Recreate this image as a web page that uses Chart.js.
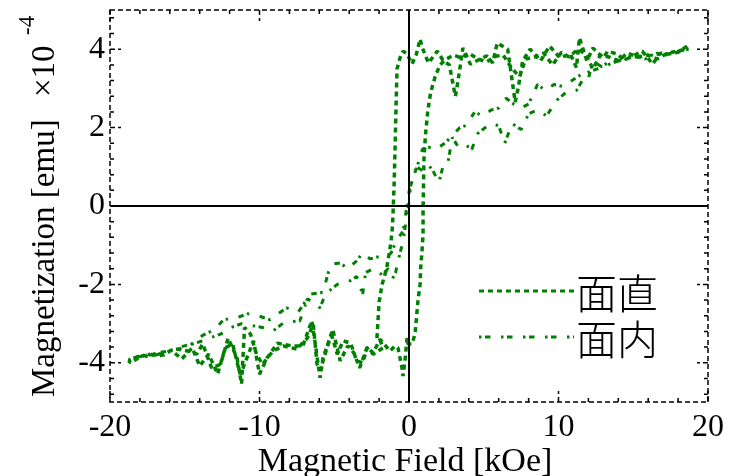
<!DOCTYPE html>
<html>
<head>
<meta charset="utf-8">
<script src="https://cdn.jsdelivr.net/npm/chart.js@4.4.1/dist/chart.umd.min.js"></script>
<style>
  body { margin: 0; background: #fff; }
  #wrap { width: 741px; height: 476px; }
</style>
</head>
<body>
<div id="wrap"><canvas id="chart" width="741" height="476"></canvas></div>
<script>
// -------- DATA (field in kOe, magnetization in 1e-4 emu) --------
const xTicks = [-20, -10, 0, 10, 20];
const yTicks = [-4, -2, 0, 2, 4];
const seriesNames = ['面直', '面内'];

// 面直 : field going down from +max, then back up
const perpDescX = [18.6, 18.0, 17.4, 16.8, 16.3, 15.6, 15.0, 14.4, 13.9, 13.3, 13.0, 12.3, 11.9, 11.4, 11.2, 10.8, 10.1, 9.4, 8.8, 8.1,
  7.6, 7.3, 7.1, 6.9, 6.6, 5.9, 5.6, 5.2, 4.5, 4.1, 3.6, 3.4, 3.2, 3.1, 2.9, 2.7, 2.3, 1.9, 1.3, 0.9,
  0.74, 0.5, 0.2, -0.13, -0.4, -0.6, -0.8, -0.85, -0.9, -0.95, -1.0, -1.05, -1.1, -1.2, -1.3, -1.5, -1.8, -2.0, -2.1, -2.15,
  -1.94, -1.74, -2.4, -2.8, -3.1, -3.5, -3.9, -4.4, -4.8, -5.15, -5.4, -5.95, -6.15, -6.4, -6.8, -7.5, -8.4, -9.1, -9.8, -10.2,
  -10.6, -11.0, -11.2, -11.5, -12.1, -12.6, -13.2, -13.8, -14.2, -14.8, -15.5, -16.0, -16.7, -17.3, -17.8, -18.2, -18.7];
const perpDescY = [4.08, 3.92, 3.88, 3.9, 3.62, 3.95, 3.83, 3.72, 3.88, 3.95, 3.78, 4.03, 3.7, 4.29, 3.53, 3.88, 3.78, 4.08, 3.7, 4.0,
  3.7, 3.0, 2.65, 3.2, 4.0, 4.16, 3.65, 3.83, 3.7, 3.62, 4.03, 3.5, 3.0, 2.8, 3.2, 3.6, 3.7, 3.95, 3.65, 4.03,
  4.26, 3.88, 3.62, 3.88, 3.95, 3.78, 3.5, 2.8, 2.0, 1.2, 0.5, 0.0, -0.5, -0.9, -1.15, -1.6, -2.0, -2.45, -3.1, -3.4,
  -3.42, -3.62, -3.78, -3.62, -4.0, -3.95, -3.5, -3.44, -3.78, -3.32, -3.52, -4.2, -4.04, -3.02, -3.37, -3.65, -3.57, -3.7, -4.04, -3.78,
  -3.27, -3.1, -4.54, -3.88, -3.37, -4.04, -4.13, -3.52, -3.78, -3.7, -3.65, -3.7, -3.83, -3.78, -3.83, -3.9, -4.0];
const perpAscX = [-18.7, -18.3, -17.9, -17.4, -16.9, -16.4, -15.9, -15.2, -14.5, -14.0, -13.4, -12.8, -12.3, -11.8, -11.3, -11.1, -10.4, -10.0, -9.5, -8.8,
  -7.8, -7.1, -6.5, -6.3, -5.95, -5.75, -5.1, -4.6, -4.1, -3.7, -3.3, -2.8, -2.4, -1.94, -1.27, -0.94, -0.74, -0.6, -0.47, -0.4,
  -0.27, -0.13, -0.07, 0.2, 0.4, 0.5, 0.6, 0.74, 0.78, 0.87, 0.94, 0.94, 0.97, 1.0, 1.1, 1.25, 1.45, 1.75, 2.07, 2.5,
  3.0, 3.5, 4.0, 4.6, 5.2, 5.8, 6.3, 6.9, 7.4, 7.8, 8.4, 9.0, 9.6, 10.2, 10.7, 11.3, 11.8, 12.3, 12.8, 13.4,
  14.0, 14.6, 15.3, 16.0, 16.6, 17.3, 18.0, 18.7];
const perpAscY = [-3.95, -3.88, -3.8, -3.85, -3.75, -3.8, -3.68, -3.9, -3.62, -4.08, -3.78, -4.29, -3.62, -3.52, -4.29, -4.13, -3.44, -4.29, -3.88, -3.5,
  -3.57, -3.57, -2.93, -3.44, -4.38, -3.88, -3.15, -3.95, -3.57, -3.74, -4.13, -3.6, -3.75, -3.4, -3.7, -3.57, -3.62, -3.88, -4.13, -4.34,
  -3.95, -3.37, -3.52, -3.52, -3.27, -2.85, -2.42, -2.0, -1.58, -1.15, -0.72, -0.13, 0.5, 1.2, 1.8, 2.4, 2.9, 3.3, 3.6, 3.75,
  3.85, 3.78, 3.9, 3.75, 3.68, 3.82, 3.85, 3.5, 3.3, 3.75, 3.8, 3.9, 3.6, 3.92, 3.8, 4.0, 3.88, 3.5, 3.85, 3.8,
  3.7, 3.9, 3.8, 3.85, 3.75, 3.9, 3.95, 4.02];

// 面内 : same sweep
const inDescX = [18.7, 18.0, 17.3, 16.6, 15.8, 15.0, 14.3, 13.6, 12.9, 12.3, 12.0, 11.5, 10.9, 10.3, 9.7, 9.1, 8.6, 8.0, 7.5, 7.0,
  6.5, 6.0, 5.5, 4.9, 4.4, 3.8, 3.4, 2.9, 2.4, 1.8, 1.3, 0.9, 0.5, 0.1, -0.1, -0.3, -0.4, -0.8, -1.2, -1.6,
  -2.1, -2.6, -3.1, -3.5, -4.1, -4.6, -5.15, -5.4, -5.75, -6.6, -7.4, -8.2, -9.3, -10.1, -10.8, -11.5, -12.4, -13.0, -13.8, -14.4,
  -15.3, -16.1, -16.9, -17.7, -18.7];
const inDescY = [4.0, 3.95, 3.85, 3.9, 3.75, 3.85, 3.7, 3.75, 3.55, 3.7, 3.25, 3.35, 3.2, 3.05, 3.1, 2.95, 3.1, 2.6, 2.5, 2.6,
  2.75, 2.5, 2.45, 2.3, 2.4, 2.05, 2.0, 1.8, 1.6, 1.45, 1.5, 1.45, 0.95, 0.6, 0.1, -0.4, -0.65, -0.85, -1.2, -1.3,
  -1.3, -1.35, -1.2, -1.4, -1.6, -1.45, -1.48, -1.7, -2.2, -2.25, -2.7, -2.6, -2.9, -2.8, -2.75, -2.85, -2.9, -3.15, -3.3, -3.5,
  -3.6, -3.7, -3.75, -3.8, -3.95];
const inAscX = [-18.7, -18.2, -17.6, -16.9, -16.2, -15.4, -14.7, -13.9, -13.2, -12.6, -11.9, -11.2, -10.5, -9.8, -9.1, -8.4, -7.8, -7.3, -6.8, -6.2,
  -5.95, -5.6, -4.8, -4.3, -3.9, -3.5, -3.1, -2.9, -2.4, -1.8, -1.4, -1.1, -0.9, -0.6, -0.4, -0.2, 0.0, 0.1, 0.3, 0.5,
  0.9, 1.3, 1.6, 2.0, 2.3, 2.6, 2.9, 3.3, 3.8, 4.2, 4.6, 5.1, 5.5, 6.0, 6.4, 6.9, 7.5, 8.0, 8.6, 9.2,
  9.9, 10.5, 11.2, 11.9, 12.6, 13.3, 14.0, 14.7, 15.5, 16.3, 17.1, 17.9, 18.7];
const inAscY = [-3.9, -3.85, -3.8, -3.8, -3.7, -3.65, -3.55, -3.45, -3.35, -3.27, -3.1, -3.0, -3.05, -3.1, -3.19, -2.98, -2.95, -2.93, -2.37, -2.5,
  -2.6, -2.25, -2.0, -1.95, -1.9, -1.8, -2.25, -1.7, -1.6, -1.75, -1.6, -1.85, -1.7, -1.2, -0.9, -0.4, 0.1, 0.5, 0.75, 1.0,
  0.9, 1.05, 0.9, 0.6, 1.05, 1.1, 1.75, 1.5, 1.55, 1.45, 1.85, 2.0, 2.1, 2.05, 1.6, 2.1, 1.95, 2.35, 2.45, 2.3,
  2.7, 2.9, 2.95, 3.4, 3.5, 3.6, 3.7, 3.8, 3.8, 3.85, 3.9, 3.95, 4.0];

// -------- HELPERS --------
function toPoints(xs, ys) {
  return xs.map((x, i) => ({ x: x, y: ys[i] }));
}

const green = '#008000';
const serif = '"Liberation Serif", "Times New Roman", serif';
const perpDash = [5, 4];
const inDash = [2.5, 3.5, 5.5, 10.5];

const perpData = toPoints(perpDescX.concat(perpAscX), perpDescY.concat(perpAscY));
const inData = toPoints(inDescX.concat(inAscX), inDescY.concat(inAscY));

// -------- AXES BOX, TICKS, ZERO LINES, LEGEND, LABELS --------
const decorations = {
  id: 'decorations',
  afterDatasetsDraw(chart) {
    const ctx = chart.ctx;
    const a = chart.chartArea;
    const xs = chart.scales.x;
    const ys = chart.scales.y;
    ctx.save();

    // zero lines
    ctx.strokeStyle = '#000';
    ctx.lineWidth = 2;
    ctx.setLineDash([]);
    ctx.beginPath();
    ctx.moveTo(a.left, ys.getPixelForValue(0));
    ctx.lineTo(a.right, ys.getPixelForValue(0));
    ctx.moveTo(xs.getPixelForValue(0), a.top);
    ctx.lineTo(xs.getPixelForValue(0), a.bottom);
    ctx.stroke();

    // dashed box
    ctx.lineWidth = 1.5;
    ctx.setLineDash([5, 3]);
    ctx.strokeRect(a.left, a.top, a.right - a.left, a.bottom - a.top);

    // inward ticks on all four sides
    ctx.beginPath();
    for (let v = -20; v <= 20; v += 2) {
      const px = xs.getPixelForValue(v);
      const len = v % 10 === 0 ? 11 : 4;
      ctx.moveTo(px, a.bottom); ctx.lineTo(px, a.bottom - len);
      ctx.moveTo(px, a.top); ctx.lineTo(px, a.top + len);
    }
    for (let k = 0; k <= 24; k++) {
      const v = -4.8 + 0.4 * k;
      const py = ys.getPixelForValue(v);
      const len = Math.abs(v / 2 - Math.round(v / 2)) < 0.01 ? 11 : 4;
      ctx.moveTo(a.left, py); ctx.lineTo(a.left + len, py);
      ctx.moveTo(a.right, py); ctx.lineTo(a.right - len, py);
    }
    ctx.stroke();

    // legend
    const legendRows = [
      { label: seriesNames[0], dash: perpDash, y: 291 },
      { label: seriesNames[1], dash: inDash, y: 337 }
    ];
    legendRows.forEach(r => {
      ctx.strokeStyle = green;
      ctx.lineWidth = 3;
      ctx.setLineDash(r.dash);
      ctx.beginPath();
      ctx.moveTo(479, r.y);
      ctx.lineTo(574, r.y);
      ctx.stroke();
      ctx.fillStyle = '#000';
      ctx.font = '300 41px "Noto Sans CJK JP"';
      ctx.textBaseline = 'middle';
      ctx.textAlign = 'left';
      ctx.fillText(r.label, 576, r.y + 2);
    });

    // x axis title
    ctx.setLineDash([]);
    ctx.fillStyle = '#000';
    ctx.font = '34px ' + serif;
    ctx.textAlign = 'center';
    ctx.textBaseline = 'alphabetic';
    ctx.fillText('Magnetic Field [kOe]', 405, 471);

    // y axis title with exponent
    ctx.translate(54, 397);
    ctx.rotate(-Math.PI / 2);
    ctx.textAlign = 'left';
    ctx.font = '33px ' + serif;
    ctx.fillText('Magnetization [emu]', 0, 0);
    ctx.fillText('\u00d710', 300, 0);
    ctx.font = '23px ' + serif;
    ctx.fillText('-4', 362, -20);
    ctx.restore();
  }
};

// -------- CHART --------
new Chart(document.getElementById('chart'), {
  type: 'scatter',
  data: {
    datasets: [
      { label: seriesNames[0], data: perpData, showLine: true, borderColor: green, borderWidth: 3.5,
        borderDash: perpDash, borderJoinStyle: 'bevel', borderCapStyle: 'butt',
        pointRadius: 0, tension: 0, fill: false },
      { label: seriesNames[1], data: inData, showLine: true, borderColor: green, borderWidth: 3,
        borderDash: inDash, borderJoinStyle: 'bevel', borderCapStyle: 'butt',
        pointRadius: 0, tension: 0, fill: false }
    ]
  },
  options: {
    responsive: false,
    devicePixelRatio: 1,
    animation: false,
    layout: { padding: { left: 0, right: 33, top: 10, bottom: 0 } },
    plugins: { legend: { display: false }, tooltip: { enabled: false } },
    scales: {
      x: {
        type: 'linear', min: -20, max: 20,
        afterBuildTicks: s => { s.ticks = xTicks.map(v => ({ value: v })); },
        afterFit: s => { s.height = 74; s.paddingLeft = 0; s.paddingRight = 0; },
        grid: { display: false, drawTicks: false },
        border: { display: false },
        ticks: { color: '#000', font: { family: serif, size: 32 }, padding: 6 }
      },
      y: {
        type: 'linear', min: -5, max: 5,
        afterBuildTicks: s => { s.ticks = yTicks.map(v => ({ value: v })); },
        afterFit: s => { s.width = 110; s.paddingTop = 0; s.paddingBottom = 0; },
        grid: { display: false, drawTicks: false },
        border: { display: false },
        ticks: { color: '#000', font: { family: serif, size: 32 }, padding: 5 }
      }
    }
  },
  plugins: [decorations]
});
</script>
</body>
</html>
